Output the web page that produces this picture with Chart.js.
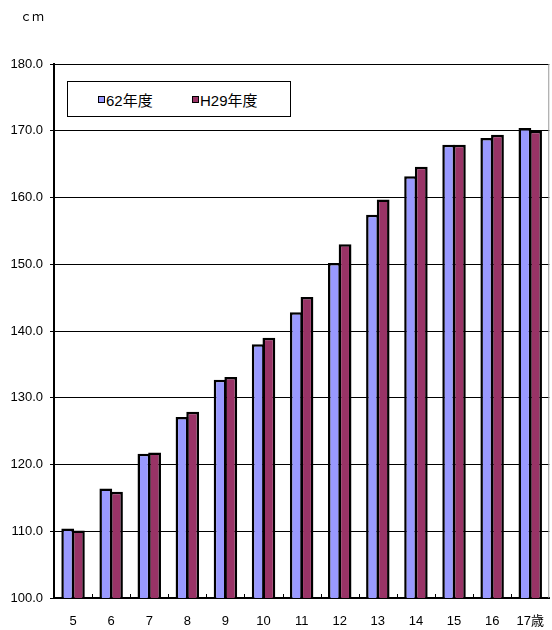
<!DOCTYPE html>
<html lang="ja">
<head>
<meta charset="utf-8">
<script src="https://cdn.jsdelivr.net/npm/chart.js@4"></script>
<style>
  html, body { margin: 0; padding: 0; background: #fff; }
  #wrap { position: relative; width: 552px; height: 630px; }
  #unit {
    position: absolute; left: 20px; top: 7px;
    font: 12px "Noto Sans CJK JP", sans-serif; color: #000;
  }
  #legend {
    position: absolute; left: 67px; top: 81px; width: 222px; height: 34px;
    border: 1px solid #000; background: #fff;
    display: flex; align-items: center;
    font: 15px "Liberation Sans", "Noto Sans CJK JP", sans-serif; color: #000;
  }
  #legend .item { position: absolute; display: flex; align-items: center; }
  #legend .box { width: 5px; height: 5px; border: 1px solid #000; margin-right: 1px; }
</style>
</head>
<body>
<div id="wrap">
  <canvas id="myChart" width="552" height="630"></canvas>
  <div id="unit">ｃｍ</div>
  <div id="legend"></div>
</div>
<script>
let ages = ["5", "6", "7", "8", "9", "10", "11", "12", "13", "14", "15", "16", "17歳"];
let s62 = [110.4, 116.4, 121.6, 127.1, 132.7, 138.0, 142.8, 150.2, 157.4, 163.2, 167.9, 168.9, 170.4];
let h29 = [110.1, 115.9, 121.8, 127.9, 133.1, 139.0, 145.1, 153.0, 159.7, 164.6, 167.9, 169.4, 170.0];
let seriesNames = ["62年度", "H29年度"];
let seriesColors = ["#9999FF", "#993366"];

let font = { family: "'Liberation Sans', 'Noto Sans CJK JP', sans-serif", size: 13 };

// small inward tick marks on the category axis plus the grey right edge
let frame = {
  id: "frame",
  afterDraw(chart) {
    let ctx = chart.ctx;
    let area = chart.chartArea;
    let x = chart.scales.x;
    ctx.save();
    ctx.strokeStyle = "#000";
    ctx.lineWidth = 1;
    for (let i = 1; i < ages.length; i++) {
      let px = Math.round((x.getPixelForValue(i - 1) + x.getPixelForValue(i)) / 2) + 0.5;
      ctx.beginPath();
      ctx.moveTo(px, area.bottom);
      ctx.lineTo(px, area.bottom - 4);
      ctx.stroke();
    }
    ctx.strokeStyle = "#999";
    ctx.beginPath();
    ctx.moveTo(area.right - 0.5, area.top);
    ctx.lineTo(area.right - 0.5, area.bottom);
    ctx.stroke();
    ctx.restore();
  },
};

let data = {
  labels: ages,
  datasets: [
    { label: seriesNames[0], data: s62, backgroundColor: seriesColors[0] },
    { label: seriesNames[1], data: h29, backgroundColor: seriesColors[1] },
  ],
};

let heightChart = new Chart(document.getElementById("myChart"), {
  type: "bar",
  data: data,
  options: {
    responsive: false,
    animation: false,
    layout: { padding: { top: 64, right: 1, left: 0, bottom: 0 } },
    datasets: {
      bar: {
        categoryPercentage: 0.56,
        barPercentage: 1.2,
        borderColor: "#000",
        borderWidth: 2.5,
        borderSkipped: false,
      },
    },
    plugins: {
      legend: { display: false },
      tooltip: { enabled: false },
    },
    scales: {
      x: {
        offset: true,
        grid: { display: false },
        border: { display: true, color: "#000", width: 2 },
        ticks: { color: "#000", font: font, padding: 8, maxRotation: 0 },
        afterFit: (s) => (s.height = 32),
      },
      y: {
        min: 100,
        max: 180,
        ticks: {
          stepSize: 10,
          color: "#000",
          font: font,
          padding: 7,
          callback: (v) => v.toFixed(1),
        },
        grid: { color: "#000", lineWidth: 1, tickLength: 4 },
        border: { display: true, color: "#000", width: 2 },
        afterFit: (s) => (s.width = 54),
      },
    },
  },
  plugins: [frame],
});

// legend box drawn over the plot
let legendEl = document.getElementById("legend");
let legendX = [30, 124];
data.datasets.forEach((ds, i) => {
  let item = document.createElement("div");
  item.className = "item";
  item.style.left = legendX[i] + "px";
  let box = document.createElement("span");
  box.className = "box";
  box.style.background = ds.backgroundColor;
  item.appendChild(box);
  item.appendChild(document.createTextNode(ds.label));
  legendEl.appendChild(item);
});
</script>
</body>
</html>
